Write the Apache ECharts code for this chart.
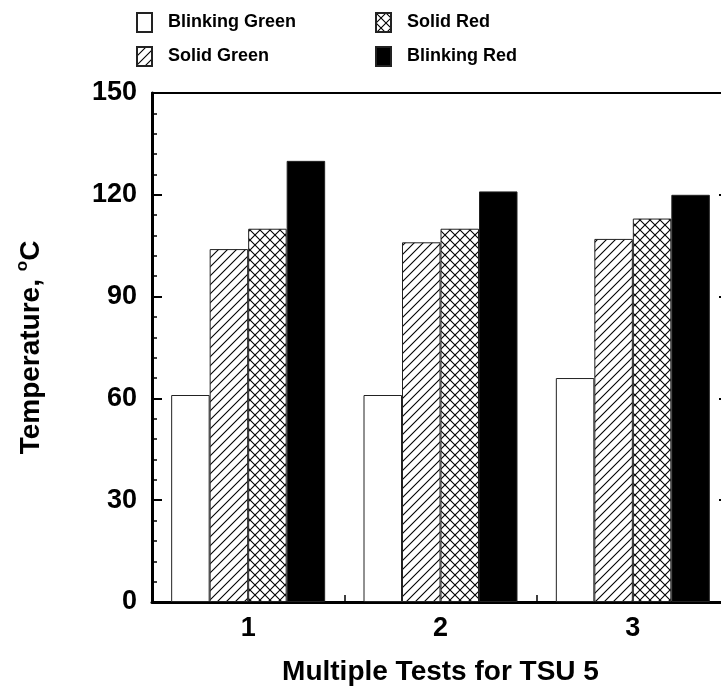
<!DOCTYPE html>
<html>
<head>
<meta charset="utf-8">
<script src="https://cdn.jsdelivr.net/npm/echarts@6/dist/echarts.min.js"></script>
<style>
html,body{margin:0;padding:0;background:#fff;}
#c{width:721px;height:690px;}
</style>
</head>
<body>
<div id="c"></div>
<script>
var categories = ['1', '2', '3'];
var seriesNames = ['Blinking Green', 'Solid Green', 'Solid Red', 'Blinking Red'];
var blinkingGreen = [61, 61, 66];
var solidGreen = [104, 106, 107];
var solidRed = [110, 110, 113];
var blinkingRed = [130, 121, 120];
var yTicks = [0, 30, 60, 90, 120, 150];

function diagPattern() {
  var s = 9, c = document.createElement('canvas');
  c.width = s; c.height = s;
  var g = c.getContext('2d');
  g.fillStyle = '#fff'; g.fillRect(0, 0, s, s);
  g.strokeStyle = '#000'; g.lineWidth = 1.1;
  g.beginPath();
  g.moveTo(-1, s + 1); g.lineTo(s + 1, -1);
  g.moveTo(-1, 1); g.lineTo(1, -1);
  g.moveTo(s - 1, s + 1); g.lineTo(s + 1, s - 1);
  g.stroke();
  return { image: c, repeat: 'repeat' };
}
function crossPattern() {
  var s = 10, c = document.createElement('canvas');
  c.width = s; c.height = s;
  var g = c.getContext('2d');
  g.fillStyle = '#fff'; g.fillRect(0, 0, s, s);
  g.strokeStyle = '#000'; g.lineWidth = 1.1;
  g.beginPath();
  g.moveTo(-1, s + 1); g.lineTo(s + 1, -1);
  g.moveTo(-1, -1); g.lineTo(s + 1, s + 1);
  g.stroke();
  return { image: c, repeat: 'repeat' };
}

var fills = ['#ffffff', diagPattern(), crossPattern(), '#000000'];
var values = [blinkingGreen, solidGreen, solidRed, blinkingRed];
var FONT = '"Liberation Sans", Arial, sans-serif';

var chart = echarts.init(document.getElementById('c'), null, { renderer: 'canvas' });

var series = seriesNames.map(function (n, i) {
  return {
    name: n,
    type: 'bar',
    xAxisIndex: 0,
    yAxisIndex: 0,
    data: values[i],
    barWidth: 38.5,
    barGap: '0%',
    itemStyle: { color: fills[i], borderColor: '#222', borderWidth: 1 },
    emphasis: { disabled: true },
    animation: false
  };
});

var legendCommon = {
  orient: 'vertical',
  icon: 'rect',
  itemWidth: 15,
  itemHeight: 19,
  itemGap: 13,
  padding: 0,
  selectedMode: false,
  textStyle: { fontFamily: FONT, fontWeight: 'bold', fontSize: 18, color: '#000', padding: [0, 0, 0, 11] }
};

var yCommon = {
  type: 'value', min: 0, max: 150, interval: 30,
  splitLine: { show: false },
  axisTick: { show: true, inside: true, length: 10, lineStyle: { color: '#000', width: 2 } },
  minorTick: { show: true, splitNumber: 5, length: 5, lineStyle: { color: '#000', width: 1.5 } },
  minorSplitLine: { show: false }
};

chart.setOption({
  animation: false,
  backgroundColor: '#fff',
  grid: { left: 152, top: 93, width: 577, bottom: 88, containLabel: false, outerBoundsMode: 'none' },
  legend: [
    Object.assign({ data: ['Blinking Green', 'Solid Green'], left: 136, top: 12 }, legendCommon),
    Object.assign({ data: ['Solid Red', 'Blinking Red'], left: 375, top: 12 }, legendCommon)
  ],
  xAxis: [
    {
      type: 'category', data: categories, position: 'bottom',
      axisLine: { show: true, onZero: false, lineStyle: { color: '#000', width: 3 } },
      axisTick: { show: true, inside: true, length: 7, lineStyle: { color: '#000', width: 1.5 } },
      axisLabel: { fontFamily: FONT, fontWeight: 'bold', fontSize: 27, color: '#000', margin: 13 },
      name: 'Multiple Tests for TSU 5', nameLocation: 'middle', nameGap: 56,
      nameTextStyle: { fontFamily: FONT, fontWeight: 'bold', fontSize: 28, color: '#000' }
    },
    {
      type: 'category', data: categories, position: 'top',
      axisLine: { show: true, onZero: false, lineStyle: { color: '#000', width: 2 } },
      axisTick: { show: false }, axisLabel: { show: false }
    }
  ],
  yAxis: [
    Object.assign({}, yCommon, {
      position: 'left',
      axisLine: { show: true, onZero: false, lineStyle: { color: '#000', width: 3 } },
      axisLabel: {
        fontFamily: FONT, fontWeight: 'bold', fontSize: 27, color: '#000', margin: 15,
        formatter: function (v) { return yTicks.indexOf(v) >= 0 ? String(v) : ''; }
      },
      name: '{t|Temperature, }{s|o}{t|C}', nameLocation: 'middle', nameGap: 104,
      nameTextStyle: {
        rich: {
          t: { fontFamily: FONT, fontWeight: 'bold', fontSize: 28, color: '#000', lineHeight: 34 },
          s: { fontFamily: FONT, fontWeight: 'bold', fontSize: 17, color: '#000', verticalAlign: 'top', lineHeight: 20 }
        }
      }
    }),
    Object.assign({}, yCommon, {
      position: 'right',
      axisLine: { show: true, onZero: false, lineStyle: { color: '#000', width: 2 } },
      axisLabel: { show: false }
    })
  ],
  series: series
});
</script>
</body>
</html>
